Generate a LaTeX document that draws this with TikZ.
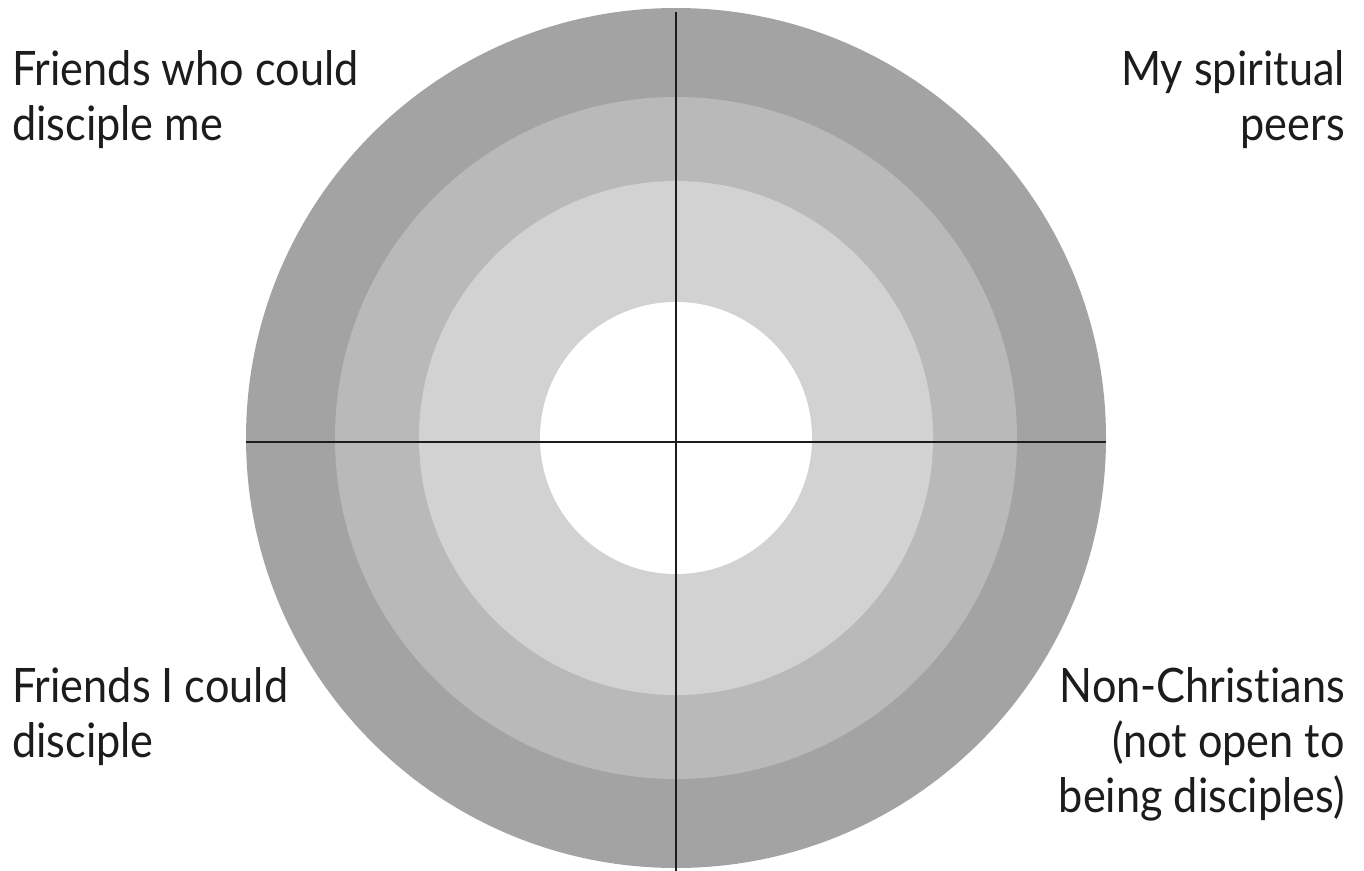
\documentclass[tikz,border=0pt]{standalone}
\usepackage{fontspec}
\setmainfont[Ligatures=NoCommon,FakeStretch=0.91]{Lato}
\definecolor{ringA}{HTML}{A3A3A3}
\definecolor{ringB}{HTML}{B9B9B9}
\definecolor{ringC}{HTML}{D2D2D2}
\definecolor{ink}{HTML}{1C1C1C}
\begin{document}
\begin{tikzpicture}[x=1pt,y=-1pt,
  lbl/.style={inner sep=0pt, text=ink, font=\fontsize{47.5}{55}\selectfont},
  axis/.style={draw=ink, line width=2.8pt}]
\useasboundingbox (0,0) rectangle (1364,870);
\coordinate (c) at (676,438);
\fill[ringA] (c) circle[radius=430];
\fill[ringB] (c) circle[radius=341];
\fill[ringC] (c) circle[radius=257];
\fill[white] (c) circle[radius=136];
\coordinate (vt) at (676,12);
\coordinate (vb) at (676,872);
\coordinate (hl) at (246,442);
\coordinate (hr) at (1106,442);
\draw[axis] (vt) -- (vb);
\draw[axis] (hl) -- (hr);
\node[lbl, anchor=base west] (tl1) at (12,85) {Friends who could};
\node[lbl, anchor=base west] (tl2) at (12,140) {disciple me};
\node[lbl, anchor=base east] (tr1) at (1345,85) {My spiritual};
\node[lbl, anchor=base east] (tr2) at (1345,140) {peers};
\node[lbl, anchor=base west] (bl1) at (12,702) {Friends I could};
\node[lbl, anchor=base west] (bl2) at (12,757) {disciple};
\node[lbl, anchor=base east] (br1) at (1345,702) {Non-Christians};
\node[lbl, anchor=base east] (br2) at (1345,757) {(not open to};
\node[lbl, anchor=base east] (br3) at (1345,812) {being disciples)};
\end{tikzpicture}
\end{document}
